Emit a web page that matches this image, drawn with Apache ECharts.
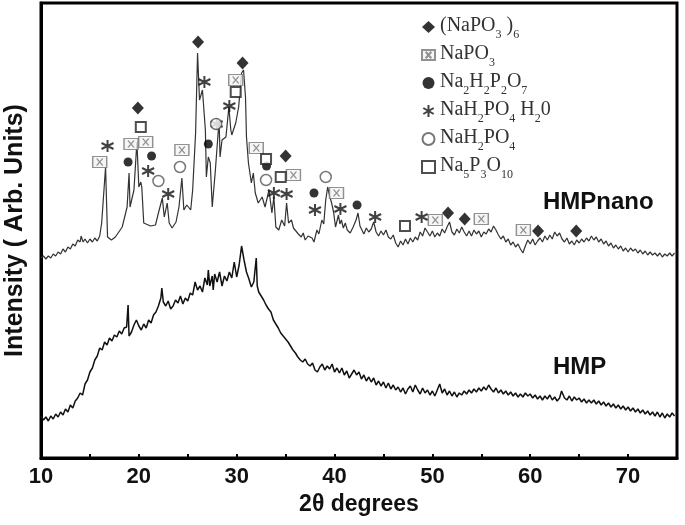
<!DOCTYPE html>
<html>
<head>
<meta charset="utf-8">
<script src="https://cdn.jsdelivr.net/npm/echarts/dist/echarts.min.js"></script>
<style>
html, body { margin: 0; padding: 0; background: #fff; }
#chart { width: 685px; height: 525px; }
</style>
</head>
<body>
<div id="chart"></div>
<script>
// 2theta (deg) and intensity (arb. units)
var nanoDeg = [10.0, 10.25, 10.5, 10.75, 11.0, 11.25, 11.5, 11.75, 12.0, 12.25, 12.5, 12.75, 13.0, 13.25, 13.5, 13.75, 14.0, 14.1, 14.3, 14.5,
    14.75, 15.0, 15.25, 15.5, 15.75, 16.0, 16.2, 16.6, 16.8, 17.2, 17.6, 18.3, 18.8, 19.0, 19.1, 19.5,
    19.8, 20.0, 20.2, 20.3, 20.5, 20.7, 21.2, 21.7, 22.0, 22.4, 22.6, 22.9, 23.1, 23.4, 23.8, 24.1, 24.4, 24.6, 24.9, 25.3,
    25.5, 25.8, 26.0, 26.2, 26.5, 26.8, 26.9, 27.1, 27.3, 27.5, 27.8, 28.2, 28.3, 28.5, 28.9, 29.2, 29.4, 29.5, 29.9, 30.2,
    30.5, 30.7, 30.9, 31.0, 31.2, 31.5, 31.7, 31.9, 32.2, 32.6, 32.9, 33.3, 33.6, 33.8, 34.0, 34.3, 34.6, 34.9, 35.1, 35.3,
    35.6, 35.8, 36.0, 36.3, 36.6, 36.8, 37.0, 37.3, 37.7, 37.9, 38.2, 38.4, 38.7, 38.9, 39.1, 39.3, 39.5, 39.7, 39.9, 40.1,
    40.25, 40.4, 40.55, 40.7, 40.9, 41.1, 41.3, 41.6, 41.9, 42.2, 42.4, 42.6, 42.8, 43.0, 43.25, 43.5, 43.75, 44.0, 44.25, 44.5,
    44.75, 45.0, 45.25, 45.5, 45.75, 46.0, 46.25, 46.5, 46.75, 47.0, 47.25, 47.5, 47.75, 48.0, 48.25, 48.5, 48.75, 49.0, 49.25, 49.5,
    49.75, 50.0, 50.25, 50.5, 50.75, 51.0, 51.25, 51.5, 51.75, 52.0, 52.25, 52.5, 52.75, 53.0, 53.25, 53.5, 53.75, 54.0, 54.25, 54.5,
    54.75, 55.0, 55.25, 55.5, 55.75, 56.0, 56.25, 56.5, 56.75, 57.0, 57.25, 57.5, 57.75, 58.0, 58.25, 58.5, 58.75, 59.0, 59.25, 59.5,
    59.75, 60.0, 60.25, 60.5, 60.75, 61.0, 61.25, 61.5, 61.75, 62.0, 62.25, 62.5, 62.75, 63.0, 63.25, 63.5, 63.75, 64.0, 64.25, 64.5,
    64.75, 65.0, 65.25, 65.5, 65.75, 66.0, 66.25, 66.5, 66.75, 67.0, 67.25, 67.5, 67.75, 68.0, 68.25, 68.5, 68.75, 69.0, 69.25, 69.5,
    69.75, 70.0, 70.25, 70.5, 70.75, 71.0, 71.25, 71.5, 71.75, 72.0, 72.25, 72.5, 72.75, 73.0, 73.25, 73.5, 73.75, 74.0, 74.25, 74.5, 74.75];
var nanoVal = [200, 202, 199, 202, 200, 204, 202, 206, 204, 209, 206, 211, 209, 214, 212, 218, 216, 222, 216, 219,
    215, 219, 216, 220, 217, 222, 235, 291, 221, 218, 221, 231, 251, 285, 251, 268,
    316, 271, 276, 271, 235, 233, 232, 233, 245, 260, 241, 255, 235, 230, 236, 251, 280, 248, 253, 248,
    268, 325, 405, 358, 368, 328, 281, 301, 295, 251, 285, 338, 301, 318, 321, 351, 328, 323, 335, 351,
    385, 388, 361, 321, 295, 275, 285, 265, 255, 261, 251, 268, 245, 261, 231, 228, 238, 232, 255, 235,
    238, 230, 228, 224, 221, 225, 218, 222, 220, 216, 228, 224, 238, 234, 258, 271, 262, 255, 246, 231,
    237, 243, 234, 238, 230, 235, 228, 225, 231, 238, 245, 232, 228, 224, 230, 226, 229, 236, 226, 222,
    227, 223, 228, 221, 219, 223, 215, 211, 217, 213, 219, 214, 220, 216, 221, 218, 226, 222, 230, 226,
    222, 227, 221, 225, 222, 229, 225, 231, 236, 226, 223, 229, 225, 231, 226, 222, 227, 222, 228, 224,
    227, 221, 226, 224, 229, 226, 232, 228, 223, 219, 222, 216, 219, 213, 216, 211, 214, 209, 205, 212,
    218, 214, 219, 213, 217, 220, 216, 222, 218, 223, 219, 226, 222, 225, 219, 216, 220, 214, 217, 213,
    218, 215, 219, 216, 220, 217, 222, 218, 221, 216, 219, 214, 217, 212, 215, 210, 213, 209, 212, 207,
    210, 206, 210, 207, 209, 205, 208, 204, 207, 203, 206, 203, 205, 202, 205, 201, 204, 202, 205, 202, 205];

var hmpDeg = [10.0, 10.25, 10.5, 10.75, 11.0, 11.25, 11.5, 11.75, 12.0, 12.25, 12.5, 12.75, 13.0, 13.25, 13.5, 13.75, 14.0, 14.25, 14.5, 14.75,
    15.0, 15.25, 15.5, 15.75, 16.0, 16.25, 16.5, 16.75, 17.0, 17.25, 17.5, 17.75, 18.0, 18.25, 18.5, 18.75, 18.9, 19.0, 19.25, 19.5,
    19.75, 20.0, 20.25, 20.5, 20.75, 21.0, 21.25, 21.5, 21.75, 22.0, 22.25, 22.35, 22.5, 22.75, 23.0, 23.25, 23.5, 23.75, 24.0, 24.25,
    24.5, 24.75, 25.0, 25.25, 25.5, 25.75, 26.0, 26.25, 26.5, 26.75, 27.0, 27.1, 27.25, 27.5, 27.6, 27.75, 28.0, 28.25, 28.5, 28.75,
    29.0, 29.25, 29.5, 29.75, 30.0, 30.25, 30.5, 30.75, 31.0, 31.25, 31.5, 31.75, 32.0, 32.1, 32.25, 32.5, 32.75, 33.0, 33.25, 33.5,
    33.75, 34.0, 34.25, 34.5, 34.75, 35.0, 35.25, 35.5, 35.75, 36.0, 36.25, 36.5, 36.75, 37.0, 37.25, 37.5, 37.75, 38.0, 38.25, 38.5,
    38.75, 39.0, 39.25, 39.5, 39.75, 40.0, 40.25, 40.5, 40.75, 41.0, 41.25, 41.5, 41.75, 42.0, 42.25, 42.5, 42.75, 43.0, 43.25, 43.5,
    43.75, 44.0, 44.25, 44.5, 44.75, 45.0, 45.25, 45.5, 45.75, 46.0, 46.25, 46.5, 46.75, 47.0, 47.25, 47.5, 47.75, 48.0, 48.25, 48.5,
    48.75, 49.0, 49.25, 49.5, 49.75, 50.0, 50.25, 50.5, 50.75, 51.0, 51.25, 51.5, 51.75, 52.0, 52.25, 52.5, 52.75, 53.0, 53.25, 53.5,
    53.75, 54.0, 54.25, 54.5, 54.75, 55.0, 55.25, 55.5, 55.75, 56.0, 56.25, 56.5, 56.75, 57.0, 57.25, 57.5, 57.75, 58.0, 58.25, 58.5,
    58.75, 59.0, 59.25, 59.5, 59.75, 60.0, 60.25, 60.5, 60.75, 61.0, 61.25, 61.5, 61.75, 62.0, 62.25, 62.5, 62.75, 63.0, 63.2, 63.5,
    63.75, 64.0, 64.25, 64.5, 64.75, 65.0, 65.25, 65.5, 65.75, 66.0, 66.25, 66.5, 66.75, 67.0, 67.25, 67.5, 67.75, 68.0, 68.25, 68.5,
    68.75, 69.0, 69.25, 69.5, 69.75, 70.0, 70.25, 70.5, 70.75, 71.0, 71.25, 71.5, 71.75, 72.0, 72.25, 72.5, 72.75, 73.0, 73.25, 73.5,
    73.75, 74.0, 74.25, 74.5, 74.75];
var hmpVal = [42, 38, 41, 37, 42, 39, 44, 41, 46, 43, 49, 46, 53, 50, 57, 60, 65, 63, 74, 78,
    86, 90, 98, 102, 110, 108, 116, 113, 120, 117, 123, 121, 127, 124, 130, 131, 153, 122, 126, 133,
    138, 132, 128, 134, 130, 138, 135, 143, 146, 152, 160, 170, 156, 152, 157, 149, 152, 158, 155, 162,
    154, 160, 157, 165, 163, 176, 168, 172, 166, 180, 173, 188, 172, 182, 168, 184, 176, 186, 172, 182,
    177, 186, 180, 196, 181, 193, 212, 198, 186, 179, 171, 176, 200, 172, 166, 162, 158, 153, 149, 146,
    138, 134, 130, 125, 122, 119, 116, 112, 108, 105, 101, 98, 96, 99, 94, 92, 95, 88, 86, 91,
    94, 88, 92, 89, 94, 86, 90, 85, 90, 83, 87, 80, 84, 88, 83, 86, 79, 83, 77, 81,
    76, 80, 73, 77, 72, 76, 70, 75, 69, 73, 68, 71, 66, 70, 64, 69, 72, 66, 73, 68,
    64, 70, 65, 68, 63, 67, 62, 68, 74, 65, 69, 63, 67, 62, 66, 61, 65, 63, 67, 64,
    68, 65, 69, 66, 70, 67, 71, 68, 73, 69, 66, 70, 65, 68, 64, 67, 63, 66, 62, 65,
    61, 64, 61, 65, 62, 64, 60, 63, 59, 62, 58, 62, 59, 63, 58, 61, 57, 60, 67, 60,
    58, 62, 57, 61, 58, 60, 56, 59, 55, 58, 55, 58, 54, 57, 53, 56, 52, 55, 51, 54,
    50, 53, 49, 52, 48, 51, 47, 50, 46, 49, 45, 48, 44, 47, 43, 46, 42, 46, 41, 45,
    40, 44, 41, 45, 42];

// phase markers [2theta, height]
var hexaPhosphate = [[19.9, 350], [26.05, 416], [30.6, 395], [35.0, 302], [51.6, 245], [53.3, 239], [60.8, 227], [64.7, 227]];
var metaPhosphate = [[16.0, 296], [19.2, 314], [20.7, 316], [24.4, 308], [29.9, 378], [32.0, 310], [35.8, 283], [40.2, 265], [50.3, 238], [55.0, 239], [59.3, 228]];
var pyroPhosphate = [[18.9, 296], [21.3, 302], [27.1, 314], [33.05, 292], [37.9, 265], [42.3, 253]];
var hydrate = [[16.8, 312], [20.95, 287], [23.0, 264], [26.7, 376], [27.95, 334], [29.25, 352], [33.8, 265], [35.1, 264], [38.0, 248], [40.6, 249], [44.15, 241], [48.9, 241]];
var dihydrogen = [[22.0, 277], [24.2, 291], [27.9, 334], [33.0, 278], [39.1, 281]];
var triPhosphate = [[20.2, 331], [29.9, 366], [33.0, 299], [34.5, 281], [47.2, 232]];

var legendNames = ['(NaPO3)6', 'NaPO3', 'Na2H2P2O7', 'NaH2PO4 H20', 'NaH2PO4', 'Na5P3O10'];
var legendRich = {
    '(NaPO3)6': '{n|(NaPO}{s|3}{n| )}{s|6}',
    'NaPO3': '{n|NaPO}{s|3}',
    'Na2H2P2O7': '{n|Na}{s|2}{n|H}{s|2}{n|P}{s|2}{n|O}{s|7}',
    'NaH2PO4 H20': '{n|NaH}{s|2}{n|PO}{s|4}{n| H}{s|2}{n|0}',
    'NaH2PO4': '{n|NaH}{s|2}{n|PO}{s|4}',
    'Na5P3O10': '{n|Na}{s|5}{n|P}{s|3}{n|O}{s|10}'
};

function zip(xs, ys) {
    return xs.map(function (x, i) { return [x, ys[i]]; });
}

function markSeries(name, data, symbol, size, style) {
    return {
        name: name,
        type: 'scatter',
        data: data,
        symbol: symbol,
        symbolSize: size,
        itemStyle: style,
        z: 5,
        silent: true
    };
}

var chart = echarts.init(document.getElementById('chart'));
var option = {
    backgroundColor: '#fff',
    animation: false,
    textStyle: { fontFamily: 'Liberation Sans' },
    grid: {
        left: 41,
        right: 8,
        top: 3,
        bottom: 67,
        outerBoundsMode: 'none',
        containLabel: false,
        show: true,
        borderColor: '#000',
        borderWidth: 3
    },
    legend: {
        data: legendNames,
        orient: 'vertical',
        left: 416,
        top: 11,
        itemGap: 3,
        itemWidth: 13,
        itemHeight: 12,
        formatter: function (name) { return legendRich[name]; },
        textStyle: {
            rich: {
                n: { fontFamily: 'Liberation Serif', fontSize: 20, color: '#333', verticalAlign: 'top', lineHeight: 22 },
                s: { fontFamily: 'Liberation Serif', fontSize: 12, color: '#333', verticalAlign: 'top', lineHeight: 12, padding: [13, 0, 0, 0] }
            }
        }
    },
    xAxis: {
        type: 'value',
        min: 10,
        max: 75,
        interval: 10,
        name: '2θ degrees',
        nameLocation: 'middle',
        nameGap: 35,
        nameTextStyle: { fontSize: 23, fontWeight: 'bold', color: '#111' },
        axisLine: { lineStyle: { color: '#000', width: 3 } },
        axisTick: { inside: true, length: 4, lineStyle: { width: 2, color: '#000' } },
        minorTick: { show: true, splitNumber: 2, length: 4, lineStyle: { width: 2, color: '#000' } },
        axisLabel: { fontSize: 22, fontWeight: 'bold', color: '#111', margin: 8, showMaxLabel: false },
        splitLine: { show: false }
    },
    yAxis: {
        type: 'value',
        min: 0,
        max: 455,
        name: 'Intensity ( Arb. Units)',
        nameLocation: 'middle',
        nameGap: 13,
        nameTextStyle: { fontSize: 25, fontWeight: 'bold', color: '#111' },
        axisLine: { show: true, lineStyle: { color: '#000', width: 3 } },
        axisTick: { show: false },
        axisLabel: { show: false },
        splitLine: { show: false }
    },
    graphic: [
        { type: 'text', left: 543, top: 190, style: { text: 'HMPnano', font: 'bold 24px "Liberation Sans"', fill: '#111' } },
        { type: 'text', left: 553, top: 355, style: { text: 'HMP', font: 'bold 24px "Liberation Sans"', fill: '#111' } }
    ],
    series: [
        {
            name: 'HMPnano',
            type: 'line',
            data: zip(nanoDeg, nanoVal),
            showSymbol: false,
            silent: true,
            lineStyle: { color: '#333', width: 1.2 }
        },
        {
            name: 'HMP',
            type: 'line',
            data: zip(hmpDeg, hmpVal),
            showSymbol: false,
            silent: true,
            lineStyle: { color: '#111', width: 1.5 }
        },
        markSeries('(NaPO3)6', hexaPhosphate, 'diamond', [12, 13], { color: '#000' }),
        markSeries('NaPO3', metaPhosphate, 'path://M0,0H14V11H0Z M4,2L10,9 M10,2L4,9', [14, 11],
            { color: '#f4f4f4', borderColor: '#777', borderWidth: 1.3 }),
        markSeries('Na2H2P2O7', pyroPhosphate, 'circle', 9, { color: '#000' }),
        markSeries('NaH2PO4 H20', hydrate, 'path://M5,0L5,10 M0.67,2.5L9.33,7.5 M9.33,2.5L0.67,7.5', [12, 12],
            { color: 'transparent', borderColor: '#111', borderWidth: 2 }),
        markSeries('NaH2PO4', dihydrogen, 'circle', 11, { color: '#fff', borderColor: '#555', borderWidth: 1.5 }),
        markSeries('Na5P3O10', triPhosphate, 'rect', 10, { color: '#fff', borderColor: '#222', borderWidth: 2 })
    ]
};
chart.setOption(option);
</script>
</body>
</html>
